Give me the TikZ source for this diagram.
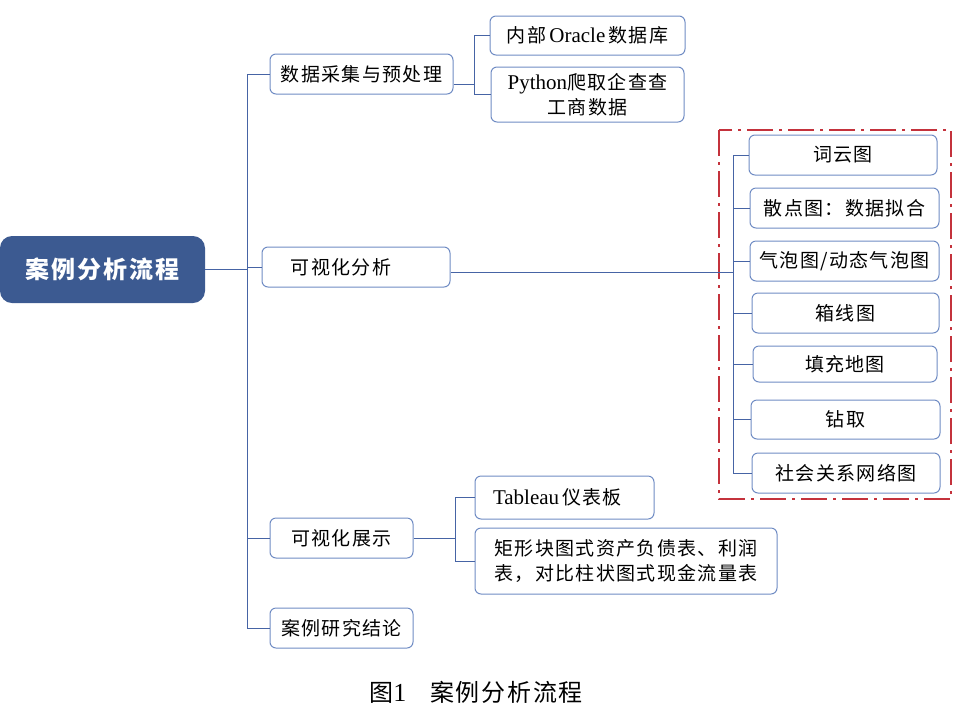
\documentclass[tikz,border=0pt]{standalone}
\usepackage{fontspec}
\setmainfont{Liberation Serif}
\newfontfamily\cjk{Noto Sans CJK SC}[LetterSpace=7]
\newfontfamily\cjkroot{Noto Sans CJK SC}[LetterSpace=8]
\usetikzlibrary{calc,positioning}
\definecolor{boxblue}{RGB}{112,140,196}
\definecolor{linkblue}{RGB}{70,100,165}
\definecolor{rootblue}{RGB}{60,90,145}
\definecolor{framered}{RGB}{196,50,60}

\begin{document}
\begin{tikzpicture}[x=1pt, y=-1pt,
    leaf/.style={draw=boxblue, line width=1pt, rounded corners=6pt, fill=white,
        inner sep=2pt, align=center, minimum height=40pt,
        font=\fontsize{19}{25}\selectfont\cjk},
    latin/.style={},
    link/.style={draw=linkblue, line width=1pt}]
    \useasboundingbox (0, 0) rectangle (962, 716);
    % root
    \node[fill=rootblue, rounded corners=12pt, minimum width=205pt, minimum height=67pt,
        text=white, font=\fontsize{24}{28}\selectfont\cjkroot\bfseries] (root) at (102.5, 269.5) {案例分析流程};
    % first level
    \node[leaf, minimum width=183pt] (collect) at (361.5, 74) {数据采集与预处理};
    \node[leaf, minimum width=188pt] (analyse) at (356, 267) {可视化分析\hspace*{30pt}};
    \node[leaf, minimum width=143pt] (show) at (341.5, 538) {可视化展示};
    \node[leaf, minimum width=143pt] (concl) at (341.5, 628) {案例研究结论};
    % data sources
    \node[leaf, minimum width=195pt, minimum height=39pt] (oracle) at (587.5, 35.5) {内部\,{\rmfamily\fontsize{21}{25}\selectfont Oracle}\,数据库};
    \node[leaf, minimum width=193pt, minimum height=55pt, font=\fontsize{19}{25}\selectfont\cjk] (python) at (587.5, 94.5) {{\rmfamily\fontsize{21}{25}\selectfont Python}爬取企查查\\工商数据};
    % charts
    \node[leaf, minimum width=188pt] (ciyun) at (843, 155) {词云图};
    \node[leaf, minimum width=189pt] (sandian) at (844.5, 208) {散点图：数据拟合};
    \node[leaf, minimum width=189pt] (qipao) at (844.5, 261) {气泡图/动态气泡图};
    \node[leaf, minimum width=187pt] (xiangxian) at (845.5, 313) {箱线图};
    \node[leaf, minimum width=184pt, minimum height=36pt] (tianchong) at (845, 364) {填充地图};
    \node[leaf, minimum width=189pt, minimum height=39pt] (zuanqu) at (845.5, 419.5) {钻取};
    \node[leaf, minimum width=188pt] (shehui) at (846, 473) {社会关系网络图};
    % dashboards
    \node[leaf, minimum width=179pt, minimum height=43pt] (tableau) at (564.5, 497.5) {{\rmfamily\fontsize{21}{25}\selectfont Tableau}\,仪表板\hspace*{14pt}};
    \node[leaf, minimum width=302pt, minimum height=66pt, font=\fontsize{19}{25}\selectfont\cjk] (matrix) at (626, 561) {矩形块图式资产负债表、利润\\表，对比柱状图式现金流量表};
    % red frame
    \draw[framered, line width=1.1pt, dash pattern=on 26pt off 6pt on 3pt off 6pt] (719, 130) rectangle (951, 499);
    % buses
    \coordinate (trunk) at (247, 0);
    \coordinate (srcbus) at (474, 0);
    \coordinate (chartbus) at (733, 0);
    \coordinate (showbus) at (455, 0);
    \draw[link] (root.east) -- (root.east -| trunk);
    \draw[link] (trunk |- collect.west) -- (trunk |- concl.west);
    \foreach \n in {collect, analyse, show, concl}
        \draw[link] (trunk |- \n.west) -- (\n.west);
    \draw[link] ([yshift=-10pt]collect.east) -- ([yshift=-10pt]collect.east -| srcbus);
    \draw[link] (srcbus |- oracle.west) -- (srcbus |- python.west);
    \foreach \n in {oracle, python}
        \draw[link] (srcbus |- \n.west) -- (\n.west);
    \draw[link] ([yshift=-5pt]analyse.east) -- ([yshift=-5pt]analyse.east -| chartbus);
    \draw[link] (chartbus |- ciyun.west) -- (chartbus |- shehui.west);
    \foreach \n in {ciyun, sandian, qipao, xiangxian, tianchong, zuanqu, shehui}
        \draw[link] (chartbus |- \n.west) -- (\n.west);
    \draw[link] (show.east) -- (show.east -| showbus);
    \draw[link] (showbus |- tableau.west) -- (showbus |- matrix.west);
    \foreach \n in {tableau, matrix}
        \draw[link] (showbus |- \n.west) -- (\n.west);
    % caption
    \node[font=\fontsize{24}{28}\selectfont\cjk] (caption) at (476, 692) {图{\rmfamily\fontsize{26}{28}\selectfont 1}\quad 案例分析流程};
\end{tikzpicture}
\end{document}
